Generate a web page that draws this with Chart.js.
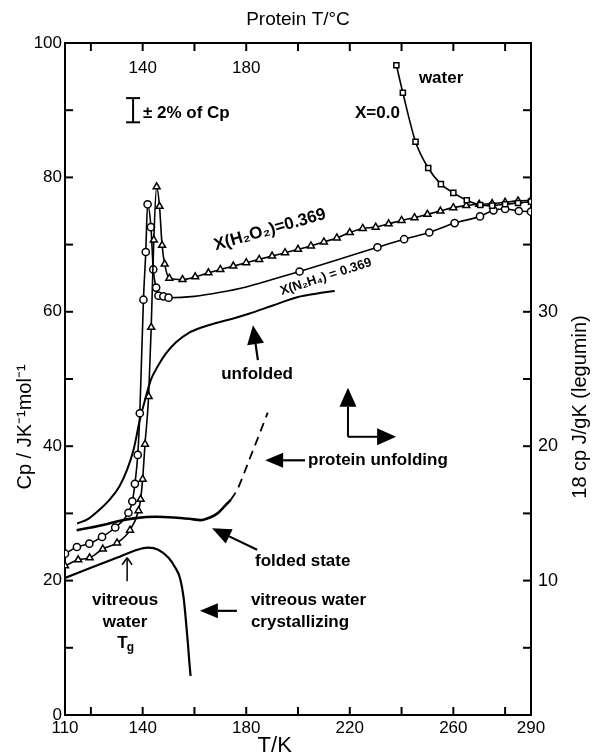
<!DOCTYPE html>
<html><head><meta charset="utf-8">
<script src="https://cdn.jsdelivr.net/npm/chart.js@4.4.1/dist/chart.umd.min.js"></script>
<style>html,body{margin:0;padding:0;background:#fff}</style>
</head><body>
<canvas id="c" width="592" height="755" style="width:592px;height:755px"></canvas>
<script>
// ---- data (T in K, Cp in J K^-1 mol^-1) ----
const waterT  = [238, 240.5, 245.4, 250.3, 255.2, 260, 265.2, 270.4, 275, 280, 285, 290];
const waterCp = [96.7, 92.6, 85.3, 81.4, 79.0, 77.7, 76.6, 75.9, 75.8, 76.0, 76.2, 76.4];

const h2o2T  = [110, 115.1, 119.5, 124.6, 130.1, 135.1, 138.4, 139.2, 140, 140.9, 142.3, 143.3, 144.3, 145.4, 146.5, 147.5, 148.5, 150.3, 155.4, 160.3, 165.4, 170, 175, 180, 185, 190, 195, 200, 205, 210, 215, 220, 225, 230, 235, 240, 245, 250, 255, 260, 265, 270, 275, 280, 285, 290];
const h2o2Cp = [22.2, 23.1, 23.4, 24.7, 25.6, 27.5, 30.4, 32.1, 35.1, 40.3, 47.4, 57.7, 70.7, 78.6, 75.7, 69.9, 67.1, 65.0, 64.8, 65.2, 65.8, 66.3, 66.8, 67.3, 67.8, 68.3, 68.8, 69.3, 69.8, 70.4, 71.0, 71.8, 72.4, 72.6, 73.1, 73.6, 74.0, 74.5, 75.0, 75.5, 75.8, 76.0, 76.1, 76.3, 76.5, 76.6];

const n2h4T  = [110, 114.6, 119.4, 124.3, 129.4, 134.5, 136, 137, 138.1, 138.9, 140.3, 141.2, 141.9, 143.2, 144.1, 145.2, 146.1, 148, 150, 160, 170, 180, 190, 200.6, 215, 230.7, 241, 250.7, 260.5, 270.3, 275.5, 280, 285.3, 290];
const n2h4Cp = [24.0, 25.0, 25.5, 26.5, 27.9, 30.1, 31.8, 34.4, 38.7, 44.9, 61.8, 68.9, 76.0, 72.6, 66.3, 63.6, 62.4, 62.3, 62.1, 62.3, 62.9, 63.7, 64.8, 66.0, 67.7, 69.6, 70.8, 71.8, 73.2, 74.2, 75.1, 75.3, 75.0, 74.9];

const unfoldedT  = [114.7, 119, 123.2, 127.6, 131, 134, 136.5, 138.9, 141, 143.2, 146, 149, 153, 158, 163, 168, 175, 181, 190, 200, 207, 214.2];
const unfoldedCp = [28.5, 29.2, 30.5, 32.2, 34.0, 36.5, 39.5, 43.9, 47.0, 49.9, 52.0, 53.8, 55.5, 56.9, 57.7, 58.3, 59.0, 59.7, 60.9, 62.2, 62.7, 63.1];

const foldedT  = [114.5, 120, 125, 130, 137.3, 145, 152, 158, 162.4, 166, 168.9, 171.5, 174];
const foldedCp = [27.5, 27.9, 28.3, 28.8, 29.3, 29.5, 29.4, 29.2, 29.0, 29.4, 30.0, 31.0, 32.0];

const unfoldingT  = [174, 176.5, 179, 181.6, 185, 188.3];
const unfoldingCp = [32.0, 33.5, 35.8, 38.4, 41.7, 45.0];

const vitreousT  = [110, 120, 130, 138, 142, 146, 150, 152.5, 154.4, 155.8, 156.6, 157.4, 158, 158.5];
const vitreousCp = [20.4, 21.9, 23.4, 24.6, 24.9, 24.6, 23.4, 22.0, 20.4, 17.5, 14.5, 11.0, 8.0, 5.8];

// ---- tick labels ----
const xTickLabels   = [110, 140, 180, 220, 260, 290];
const topTickLabels = [140, 180];
const yTickLabels   = [0, 20, 40, 60, 80, 100];
const y2TickLabels  = [10, 20, 30];
const xMinorTicks   = [120, 140, 160, 180, 200, 220, 240, 260, 280];
const yMinorTicks   = [10, 20, 30, 40, 50, 60, 70, 80, 90];

const F = "'Liberation Sans', Arial, Helvetica, sans-serif";
const pts = (xs, ys) => xs.map((x, i) => ({x: x, y: ys[i]}));

function series(xs, ys, extra) {
  return Object.assign({
    data: pts(xs, ys), xAxisID: 'x', yAxisID: 'y',
    borderColor: '#000', backgroundColor: '#fff', borderWidth: 1.6,
    pointRadius: 0, pointBorderWidth: 1.5, pointBorderColor: '#000', pointBackgroundColor: '#fff',
    cubicInterpolationMode: 'monotone', fill: false
  }, extra || {});
}

const deco = {
  id: 'deco',
  afterDraw(chart) {
    const ctx = chart.ctx, a = chart.chartArea;
    const xs = chart.scales.x, ys = chart.scales.y;
    const X = v => xs.getPixelForValue(v), Y = v => ys.getPixelForValue(v);
    ctx.save();
    ctx.strokeStyle = '#000'; ctx.fillStyle = '#000'; ctx.lineCap = 'butt';
    const line = (x1, y1, x2, y2, w) => { ctx.lineWidth = w || 2; ctx.beginPath(); ctx.moveTo(x1, y1); ctx.lineTo(x2, y2); ctx.stroke(); };
    // inward ticks
    xMinorTicks.forEach(v => { line(X(v), a.bottom, X(v), a.bottom - 8); line(X(v), a.top, X(v), a.top + 8); });
    yMinorTicks.forEach(v => { line(a.left, Y(v), a.left + 8, Y(v)); line(a.right, Y(v), a.right - 8, Y(v)); });
    // top tick labels (inside)
    ctx.font = '17px ' + F; ctx.textAlign = 'center'; ctx.textBaseline = 'middle';
    topTickLabels.forEach(v => ctx.fillText(String(v), X(v), a.top + 25));
    // axis titles
    ctx.font = '22px ' + F;
    ctx.fillText('T/K', X(191), a.bottom + 31);
    ctx.save(); ctx.translate(25, 427); ctx.rotate(-Math.PI / 2);
    ctx.font = '20px ' + F; ctx.fillText('Cp / JK\u207B\u00B9mol\u207B\u00B9', 0, 0); ctx.restore();
    ctx.save(); ctx.translate(580, 407); ctx.rotate(-Math.PI / 2);
    ctx.font = '20px ' + F; ctx.fillText('18 cp J/gK (legumin)', 0, 0); ctx.restore();

    // arrows
    const arrow = (x1, y1, x2, y2, hl, hw, lw) => {
      const ang = Math.atan2(y2 - y1, x2 - x1);
      const bx = x2 - hl * Math.cos(ang), by = y2 - hl * Math.sin(ang);
      line(x1, y1, bx, by, lw);
      ctx.beginPath(); ctx.moveTo(x2, y2);
      ctx.lineTo(bx + hw / 2 * Math.sin(ang), by - hw / 2 * Math.cos(ang));
      ctx.lineTo(bx - hw / 2 * Math.sin(ang), by + hw / 2 * Math.cos(ang));
      ctx.closePath(); ctx.fill();
    };
    // error bar
    const ex = X(136.3);
    line(ex, Y(91.8), ex, Y(88.2), 2);
    line(ex - 7, Y(91.8), ex + 7, Y(91.8), 2);
    line(ex - 7, Y(88.2), ex + 7, Y(88.2), 2);

    ctx.font = 'bold 17px ' + F; ctx.textAlign = 'left'; ctx.textBaseline = 'middle';
    ctx.fillText('\u00B1 2% of Cp', X(140.1), Y(89.6));
    ctx.fillText('water', X(246.7), Y(94.8));
    ctx.fillText('X=0.0', X(222.0), Y(89.6));
    ctx.fillText('protein unfolding', X(203.9), Y(37.9));
    ctx.fillText('folded state', X(183.4), Y(22.9));
    ctx.fillText('vitreous water', X(181.8), Y(17.1));
    ctx.fillText('crystallizing', X(181.8), Y(13.8));
    ctx.textAlign = 'center';
    ctx.fillText('unfolded', X(184.2), Y(50.7));
    ctx.fillText('vitreous', X(133.2), Y(17.1));
    ctx.fillText('water', X(133.2), Y(13.8));
    ctx.fillText('T', X(132.2), Y(10.7));
    ctx.font = 'bold 12px ' + F;
    ctx.fillText('g', X(132.2) + 8, Y(10.7) + 5);

    // rotated curve labels
    ctx.save(); ctx.translate(X(189.2), Y(72.2)); ctx.rotate(-16 * Math.PI / 180);
    ctx.font = 'bold 17px ' + F; ctx.textAlign = 'center';
    ctx.fillText('X(H\u2082O\u2082)=0.369', 0, 0); ctx.restore();
    ctx.save(); ctx.translate(X(210.8), Y(65.2)); ctx.rotate(-18 * Math.PI / 180);
    ctx.font = 'bold 13px ' + F; ctx.textAlign = 'center';
    ctx.fillText('X(N\u2082H\u2084) = 0.369', 0, 0); ctx.restore();

    arrow(X(184.5), Y(52.8), X(182.6), Y(58.0), 19, 17, 2.2);
    arrow(X(202.7), Y(37.9), X(187.3), Y(37.9), 18, 15, 2.2);
    arrow(X(184.2), Y(24.6), X(166.8), Y(27.8), 19, 16, 2.2);
    arrow(X(176.4), Y(15.5), X(162.1), Y(15.5), 18, 15, 2.2);
    // axes arrows
    arrow(X(219.3), Y(41.4), X(219.3), Y(48.7), 19, 17, 2);
    arrow(X(219.3), Y(41.4), X(237.9), Y(41.4), 19, 17, 2);
    // thin Tg arrow
    const tx = X(134);
    line(tx, Y(19.9), tx, Y(23.4), 1.5);
    line(tx - 5, Y(23.4) + 7, tx, Y(23.4), 1.5);
    line(tx + 5, Y(23.4) + 7, tx, Y(23.4), 1.5);
    ctx.restore();
  }
};

const tickFont = {family: F, size: 17};
new Chart(document.getElementById('c'), {
  type: 'line',
  data: {
    datasets: [
      series(waterT, waterCp, {label: 'water X=0.0', pointStyle: 'rect', pointRadius: 3.6}),
      series(h2o2T, h2o2Cp, {label: 'X(H2O2)=0.369', pointStyle: 'triangle', pointRadius: 4}),
      series(n2h4T, n2h4Cp, {label: 'X(N2H4)=0.369', pointStyle: 'circle',
        pointRadius: c => { const v = c.raw && c.raw.x; return (v > 150.5 && v < 200) || v === 215 ? 0 : 3.6; }}),
      series(unfoldedT, unfoldedCp, {label: 'unfolded', borderWidth: 2}),
      series(foldedT, foldedCp, {label: 'folded state', borderWidth: 2.6}),
      series(unfoldingT, unfoldingCp, {label: 'protein unfolding', borderWidth: 1.8, borderDash: [9, 6]}),
      series(vitreousT, vitreousCp, {label: 'vitreous water crystallizing', borderWidth: 2.2})
    ]
  },
  options: {
    responsive: false, animation: false, devicePixelRatio: 1,
    layout: {padding: 0},
    plugins: {legend: {display: false}, tooltip: {enabled: false}, title: {display: false}},
    scales: {
      x: {type: 'linear', position: 'bottom', min: 110, max: 290,
        afterBuildTicks: s => { s.ticks = xTickLabels.map(v => ({value: v})); },
        afterFit: s => { s.height = 40; },
        grid: {display: false, drawTicks: false}, border: {display: true, color: '#000', width: 2},
        ticks: {color: '#000', font: tickFont, padding: 3, maxRotation: 0, autoSkip: false}},
      xTop: {type: 'linear', position: 'top', min: 110, max: 290,
        afterFit: s => { s.height = 43; },
        grid: {display: false, drawTicks: false}, border: {display: true, color: '#000', width: 2},
        ticks: {display: false},
        title: {display: true, text: 'Protein T/\u00B0C', color: '#000', font: {family: F, size: 19}, padding: {top: 8, bottom: 0}}},
      y: {type: 'linear', position: 'left', min: 0, max: 100,
        afterBuildTicks: s => { s.ticks = yTickLabels.map(v => ({value: v})); },
        afterFit: s => { s.width = 65; },
        grid: {display: false, drawTicks: false}, border: {display: true, color: '#000', width: 2},
        ticks: {color: '#000', font: tickFont, padding: 3}},
      y2: {type: 'linear', position: 'right', min: 0, max: 50,
        afterBuildTicks: s => { s.ticks = y2TickLabels.map(v => ({value: v})); },
        afterFit: s => { s.width = 61; },
        grid: {display: false, drawTicks: false}, border: {display: true, color: '#000', width: 2},
        ticks: {color: '#000', font: {family: F, size: 18}, padding: 7}}
    }
  },
  plugins: [deco]
});
</script>
</body></html>
